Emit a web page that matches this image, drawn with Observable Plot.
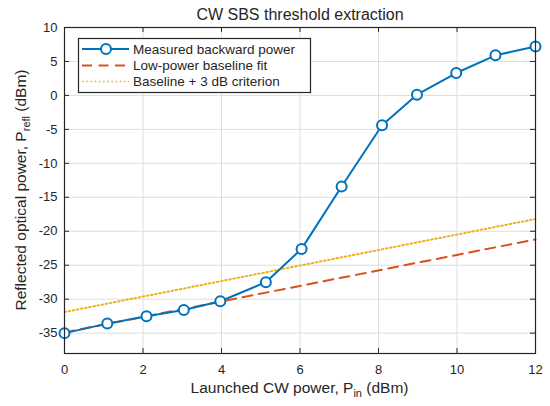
<!DOCTYPE html>
<html>
<head>
<meta charset="utf-8">
<script src="https://cdn.jsdelivr.net/npm/d3@7"></script>
<script src="https://cdn.jsdelivr.net/npm/@observablehq/plot@0.6"></script>
<style>
  html, body { margin: 0; padding: 0; background: #fff; }
  svg { font-family: "Liberation Sans", Arial, Helvetica, sans-serif; }
</style>
</head>
<body>
<div id="chart"></div>
<script>
// ---- data ----
const launchedPower = [0, 1.09, 2.09, 3.04, 3.97, 5.13, 6.04, 7.06, 8.09, 8.98, 9.98, 10.98, 12];
const reflectedPower = [-35.0, -33.6, -32.5, -31.6, -30.3, -27.5, -22.6, -13.4, -4.4, 0.1, 3.3, 5.9, 7.2];
const fitX = [0, 12];
const fitY = [-34.9, -21.2];
const criterionY = [-31.9, -18.2];
const xTicks = [0, 2, 4, 6, 8, 10, 12];
const yTicks = [-35, -30, -25, -20, -15, -10, -5, 0, 5, 10];
const legendLabels = ["Measured backward power", "Low-power baseline fit", "Baseline + 3 dB criterion"];
const titleText = "CW SBS threshold extraction";

const colors = {blue: "#0072BD", orange: "#D95319", yellow: "#EDB120", axis: "#262626", grid: "#dedede"};

const measured = launchedPower.map((x, i) => ({x, y: reflectedPower[i]}));
const fit = fitX.map((x, i) => ({x, y: fitY[i]}));
const crit = fitX.map((x, i) => ({x, y: criterionY[i]}));

const W = 550, H = 406;
const mL = 64, mR = 15, mT = 27, mB = 53;
const fw = W - mL - mR, fh = H - mT - mB;
const tl = 5;
const dotDash = "1.6,2.6";
const dashDash = "10,6.5";

const chart = Plot.plot({
  width: W, height: H,
  marginLeft: mL, marginRight: mR, marginTop: mT, marginBottom: mB,
  style: {fontFamily: '"Liberation Sans", Arial, sans-serif', fontSize: "13px", color: colors.axis, background: "#fff"},
  x: {domain: [0, 12]},
  y: {domain: [-38, 10]},
  marks: [
    Plot.gridX(xTicks, {stroke: colors.grid, strokeOpacity: 1, strokeWidth: 1}),
    Plot.gridY(yTicks, {stroke: colors.grid, strokeOpacity: 1, strokeWidth: 1}),
    Plot.axisX(xTicks, {tickSize: 0, tickPadding: 11, tickFormat: d => String(d), fontSize: 13, fill: colors.axis, label: null}),
    Plot.axisY(yTicks, {tickSize: 0, tickPadding: 7, tickFormat: d => String(d), fontSize: 13, fill: colors.axis, label: null}),
    // inward ticks on all four sides
    Plot.tickX(xTicks, {x: d => d, insetTop: fh - tl, stroke: colors.axis, strokeWidth: 1}),
    Plot.tickX(xTicks, {x: d => d, insetBottom: fh - tl, stroke: colors.axis, strokeWidth: 1}),
    Plot.tickY(yTicks, {y: d => d, insetRight: fw - tl, stroke: colors.axis, strokeWidth: 1}),
    Plot.tickY(yTicks, {y: d => d, insetLeft: fw - tl, stroke: colors.axis, strokeWidth: 1}),
    Plot.line(crit, {x: "x", y: "y", stroke: colors.yellow, strokeWidth: 2, strokeDasharray: dotDash}),
    Plot.line(fit, {x: "x", y: "y", stroke: colors.orange, strokeWidth: 2, strokeDasharray: dashDash}),
    Plot.line(measured, {x: "x", y: "y", stroke: colors.blue, strokeWidth: 2}),
    Plot.dot(measured, {x: "x", y: "y", r: 5, stroke: colors.blue, strokeWidth: 2, fill: "#fff"}),
    Plot.frame({stroke: colors.axis, strokeWidth: 1.2}),
    Plot.text([titleText], {frameAnchor: "top", dy: -8, lineAnchor: "bottom", fontSize: 16, fill: colors.axis})
  ]
});

document.getElementById("chart").appendChild(chart);

// ---- axis labels with subscripts and legend ----
const svg = d3.select(chart);
const font = '"Liberation Sans", Arial, sans-serif';

const xl = svg.append("text")
  .attr("x", mL + fw / 2).attr("y", 393).attr("text-anchor", "middle")
  .attr("font-family", font).attr("font-size", 15.5).attr("fill", colors.axis);
xl.append("tspan").text("Launched CW power, P");
xl.append("tspan").attr("font-size", 11).attr("dy", 3.5).text("in");
xl.append("tspan").attr("dy", -3.5).text(" (dBm)");

const yl = svg.append("text")
  .attr("transform", `translate(26,${mT + fh / 2}) rotate(-90)`).attr("text-anchor", "middle")
  .attr("font-family", font).attr("font-size", 15.5).attr("fill", colors.axis);
yl.append("tspan").text("Reflected optical power, P");
yl.append("tspan").attr("font-size", 11).attr("dy", 3.5).text("refl");
yl.append("tspan").attr("dy", -3.5).text(" (dBm)");

const lg = svg.append("g");
lg.append("rect").attr("x", 78.5).attr("y", 38.5).attr("width", 232).attr("height", 54)
  .attr("fill", "#fff").attr("stroke", colors.axis).attr("stroke-width", 1.2);
const rows = [49, 65.5, 81.5];
const styles = [
  {stroke: colors.blue, dash: null},
  {stroke: colors.orange, dash: dashDash},
  {stroke: colors.yellow, dash: dotDash}
];
legendLabels.forEach((lab, i) => {
  lg.append("line").attr("x1", 82).attr("x2", 129).attr("y1", rows[i]).attr("y2", rows[i])
    .attr("stroke", styles[i].stroke).attr("stroke-width", i === 2 ? 1.6 : 2)
    .attr("stroke-dasharray", styles[i].dash);
  if (i === 0) lg.append("circle").attr("cx", 106).attr("cy", rows[i]).attr("r", 5)
    .attr("fill", "#fff").attr("stroke", colors.blue).attr("stroke-width", 2);
  lg.append("text").attr("x", 133).attr("y", rows[i]).attr("dy", "0.36em")
    .attr("text-anchor", "start")
    .attr("font-family", font).attr("font-size", 13.5).attr("fill", colors.axis).text(lab);
});
</script>
</body>
</html>
